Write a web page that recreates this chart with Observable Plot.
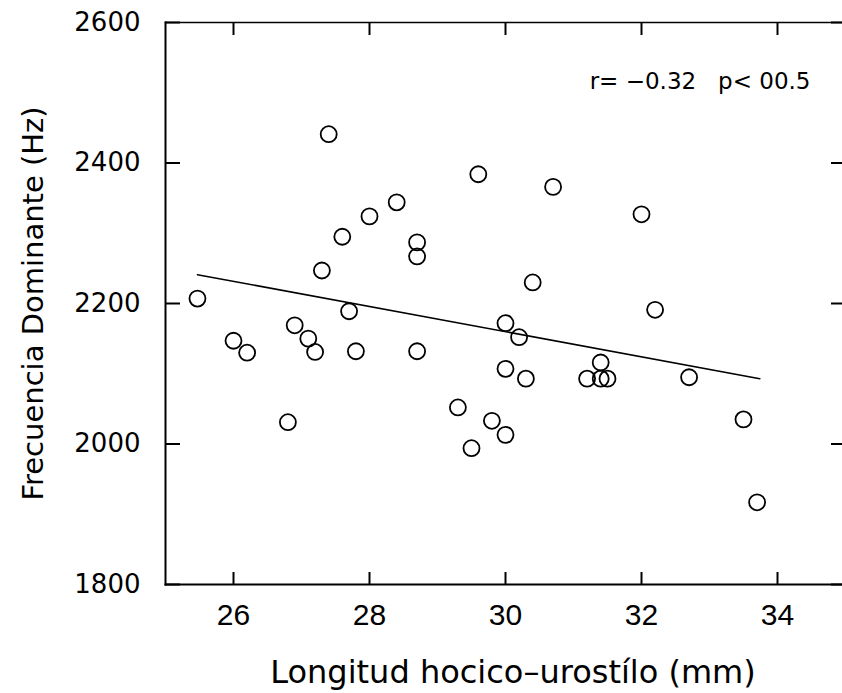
<!DOCTYPE html>
<html><head><meta charset="utf-8">
<script src="https://cdn.jsdelivr.net/npm/d3@7"></script>
<script src="https://cdn.jsdelivr.net/npm/@observablehq/plot@0.6"></script>
<style>html,body{margin:0;padding:0;background:#fff;overflow:hidden}</style>
</head><body><div id="chart"></div>
<script>
// Longitud hocico-urostilo (mm)
const longitud = [25.47, 26.0, 26.2, 26.8, 26.9, 27.1, 27.2, 27.3, 27.4, 27.6, 27.7, 27.8, 28.0, 28.4, 28.7, 28.7, 28.7, 29.3, 29.5, 29.6, 29.8, 30.0, 30.0, 30.0, 30.2, 30.3, 30.4, 30.7, 31.2, 31.4, 31.4, 31.5, 32.0, 32.2, 32.7, 33.5, 33.7];
// Frecuencia dominante (Hz)
const frecuencia = [2207, 2147, 2130, 2031, 2169, 2150, 2131, 2247, 2441, 2295, 2189, 2132, 2324, 2344, 2287, 2267, 2132, 2052, 1994, 2384, 2033, 2172, 2107, 2013, 2152, 2093, 2230, 2366, 2093, 2116, 2093, 2093, 2327, 2191, 2095, 2035, 1917];
// Regression line end points
const fitLongitud = [25.47, 33.74];
const fitFrecuencia = [2241, 2093];
// Ticks
const xTicks = [26, 28, 30, 32, 34];
const yTicks = [1800, 2000, 2200, 2400, 2600];
const xTitle = "Longitud hocico\u2013urost\u00edlo (mm)";
const yTitle = "Frecuencia Dominante (Hz)";
const statText = "r=\u00a0\u22120.32\u00a0\u00a0 p<\u00a000.5";

const points = longitud.map((x, i) => ({x, y: frecuencia[i]}));
const fit = fitLongitud.map((x, i) => ({x, y: fitFrecuencia[i]}));

const chart = Plot.plot({
  width: 842,
  height: 693,
  marginTop: 22,
  marginBottom: 109,
  marginLeft: 165,
  marginRight: 0,
  style: {fontFamily: "DejaVu Sans", color: "black", background: "white"},
  x: {domain: [25, 35], range: [165, 845]},
  y: {domain: [1800, 2600]},
  marks: [
    Plot.frame({anchor: "left", stroke: "black", strokeWidth: 2}),
    Plot.frame({anchor: "bottom", stroke: "black", strokeWidth: 2}),
    Plot.frame({anchor: "top", stroke: "black", strokeWidth: 1.5}),
    Plot.axisX(xTicks, {anchor: "bottom", tickSize: -12, tickPadding: 31, strokeWidth: 2, fontSize: 30, fontFamily: "Liberation Sans", tickFormat: d => String(d), label: null}),
    Plot.axisX(xTicks, {anchor: "top", tickSize: -12, strokeWidth: 2, fill: "none", label: null}),
    Plot.axisY(yTicks, {anchor: "left", tickSize: -15, tickPadding: 40, strokeWidth: 2, fontSize: 26, tickFormat: d => String(d), label: null}),
    Plot.axisY(yTicks, {anchor: "right", tickSize: -12, strokeWidth: 2, fill: "none", label: null}),
    Plot.line(fit, {x: "x", y: "y", stroke: "black", strokeWidth: 1.6}),
    Plot.dot(points, {x: "x", y: "y", r: 8, stroke: "black", strokeWidth: 1.8, fill: "none"}),
    Plot.text([yTitle], {text: d => d, frameAnchor: "left", textAnchor: "middle", lineAnchor: "middle", dx: -132, rotate: -90, fontSize: 29}),
    Plot.text([xTitle], {text: d => d, frameAnchor: "bottom", textAnchor: "middle", lineAnchor: "middle", dy: 88, dx: 9, fontSize: 32}),
    Plot.text([statText], {text: d => d, frameAnchor: "top-right", textAnchor: "end", lineAnchor: "middle", dx: -32, dy: 59, fontSize: 23})
  ]
});
document.getElementById("chart").appendChild(chart);
</script>
</body></html>
